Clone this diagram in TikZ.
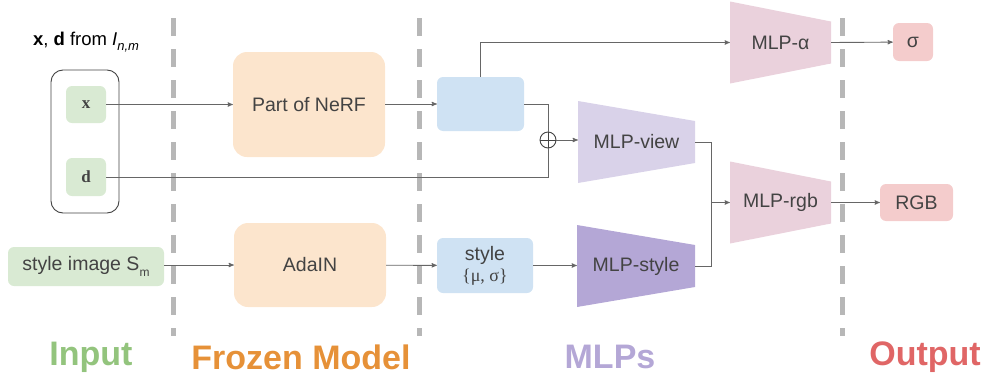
\documentclass[tikz,border=0pt]{standalone}
\usepackage{fontspec}
\setmainfont{Liberation Sans}
\newfontfamily\seriffont{Liberation Serif}
\usetikzlibrary{positioning,arrows}

\definecolor{ingreen}{HTML}{D9EAD3}
\definecolor{inlabel}{HTML}{93C47D}
\definecolor{peach}{HTML}{FCE5CD}
\definecolor{frozenlabel}{HTML}{E69138}
\definecolor{lightblue}{HTML}{CFE2F3}
\definecolor{viewpurple}{HTML}{D9D2E9}
\definecolor{stylepurple}{HTML}{B4A7D6}
\definecolor{mlppink}{HTML}{EAD1DC}
\definecolor{outpink}{HTML}{F4CCCC}
\definecolor{outlabel}{HTML}{E06666}
\definecolor{sepgray}{HTML}{B7B7B7}
\definecolor{linegray}{HTML}{666666}
\definecolor{textgray}{HTML}{434343}

\tikzset{
  box/.style={rounded corners=6pt, inner sep=0pt, text=textgray,
    font=\fontsize{19.5}{23}\selectfont, align=center},
  bigbox/.style={box, rounded corners=14pt, fill=peach,
    minimum width=152pt},
  mlp/.style={inner sep=0pt, minimum height=82pt, text=textgray,
    font=\fontsize{19.5}{23}\selectfont,
    path picture={\fill[#1] (path picture bounding box.north west)
      -- ([yshift=-20pt]path picture bounding box.north east)
      -- ([yshift=20pt]path picture bounding box.south east)
      -- (path picture bounding box.south west) -- cycle;}},
  link/.style={draw=linegray, line width=0.9pt},
  arr/.style={link, -stealth'},
  sep/.style={draw=sepgray, line width=5pt, dash pattern=on 18pt off 13pt},
  legend/.style={font=\fontsize{34}{38}\selectfont\bfseries}
}

\begin{document}
\begin{tikzpicture}[x=1pt, y=-1pt]
\useasboundingbox (0,0) rectangle (984,383);

% separators
\draw[sep] (173,18) -- (173,336);
\draw[sep] (419,18) -- (419,336);
\draw[sep] (842,18) -- (842,336);

% input
\node[draw=textgray, line width=0.9pt, rounded corners=12pt,
  minimum width=68pt, minimum height=143pt] (inbox) at (85,141.5) {};
\node[box, fill=ingreen, minimum width=40pt, minimum height=37pt,
  font=\fontsize{17}{20}\seriffont\bfseries] (x) at (86,104.5) {x};
\node[box, fill=ingreen, minimum width=40pt, minimum height=38pt,
  font=\fontsize{17}{20}\seriffont\bfseries] (d) at (86,177) {d};
\node[text=black, font=\fontsize{18.5}{22}\selectfont] (title) at (86,42)
  {\textbf{x}, \textbf{d} from \textit{I}\raisebox{-0.45ex}{\fontsize{13}{15}\selectfont\itshape n,m}};
\node[box, fill=ingreen, minimum width=156pt, minimum height=39pt]
  (simage) at (86,266.5) {style image S\raisebox{-0.5ex}{\fontsize{12}{14}\selectfont m}};

% frozen model
\node[bigbox, minimum height=105pt] (nerf) at (309,104.5) {Part of NeRF};
\node[bigbox, minimum height=84pt] (adain) at (310,265) {AdaIN};

% mlps
\node[box, fill=lightblue, minimum width=87pt, minimum height=54pt] (feat) at (480.5,104) {};
\node[box, fill=lightblue, minimum width=96pt, minimum height=55pt] (stats) at (485,265.5)
  {style\\[-2pt]{\seriffont\fontsize{18}{20}\selectfont\{μ, σ\}}};
\node[draw=textgray, line width=0.9pt, circle, minimum size=16pt, inner sep=0pt] (plus) at (548,140) {};
\draw[textgray, line width=0.9pt] (plus.north) -- (plus.south) (plus.west) -- (plus.east);
\node[mlp=viewpurple, minimum width=117pt] (view) at (636.5,142) {MLP-view};
\node[mlp=stylepurple, minimum width=118pt] (mstyle) at (636,266) {MLP-style};
\node[mlp=mlppink, minimum width=101pt] (alpha) at (780.5,42.5) {MLP-α};
\node[mlp=mlppink, minimum width=101pt] (rgbnet) at (780.5,202.5) {MLP-rgb};
\coordinate (join) at (711,202.5);

% output
\node[box, fill=outpink, minimum width=40pt, minimum height=38pt] (sigma) at (913,42) {σ};
\node[box, fill=outpink, minimum width=73pt, minimum height=37pt] (rgb) at (916.5,202.5) {RGB};

% connectors
\draw[arr] (x) -- (nerf);
\draw[arr] (nerf.east |- feat) -- (feat);
\draw[arr] (feat.north) |- (alpha.west);
\draw[link] (feat.east) -| (plus.north);
\draw[link] (d.east) -| (plus.south);
\draw[arr] (plus.east) -- (view.west |- plus);
\draw[link] (view.east) -| (join);
\draw[link] (mstyle.east) -| (join);
\draw[arr] (join) -- (rgbnet.west);
\draw[arr] (simage.east |- adain) -- (adain);
\draw[arr] (adain) -- (stats);
\draw[arr] (stats) -- (mstyle.west |- stats);
\draw[arr] (alpha.east) -- (sigma);
\draw[arr] (rgbnet.east) -- (rgb);

% legend
\node[legend, text=inlabel] (lin) at (91,357) {Input};
\node[legend, text=frozenlabel] (lfrozen) at (301,357) {Frozen Model};
\node[legend, text=stylepurple] (lmlp) at (610,357) {MLPs};
\node[legend, text=outlabel] (lout) at (925,357) {Output};
\end{tikzpicture}
\end{document}
